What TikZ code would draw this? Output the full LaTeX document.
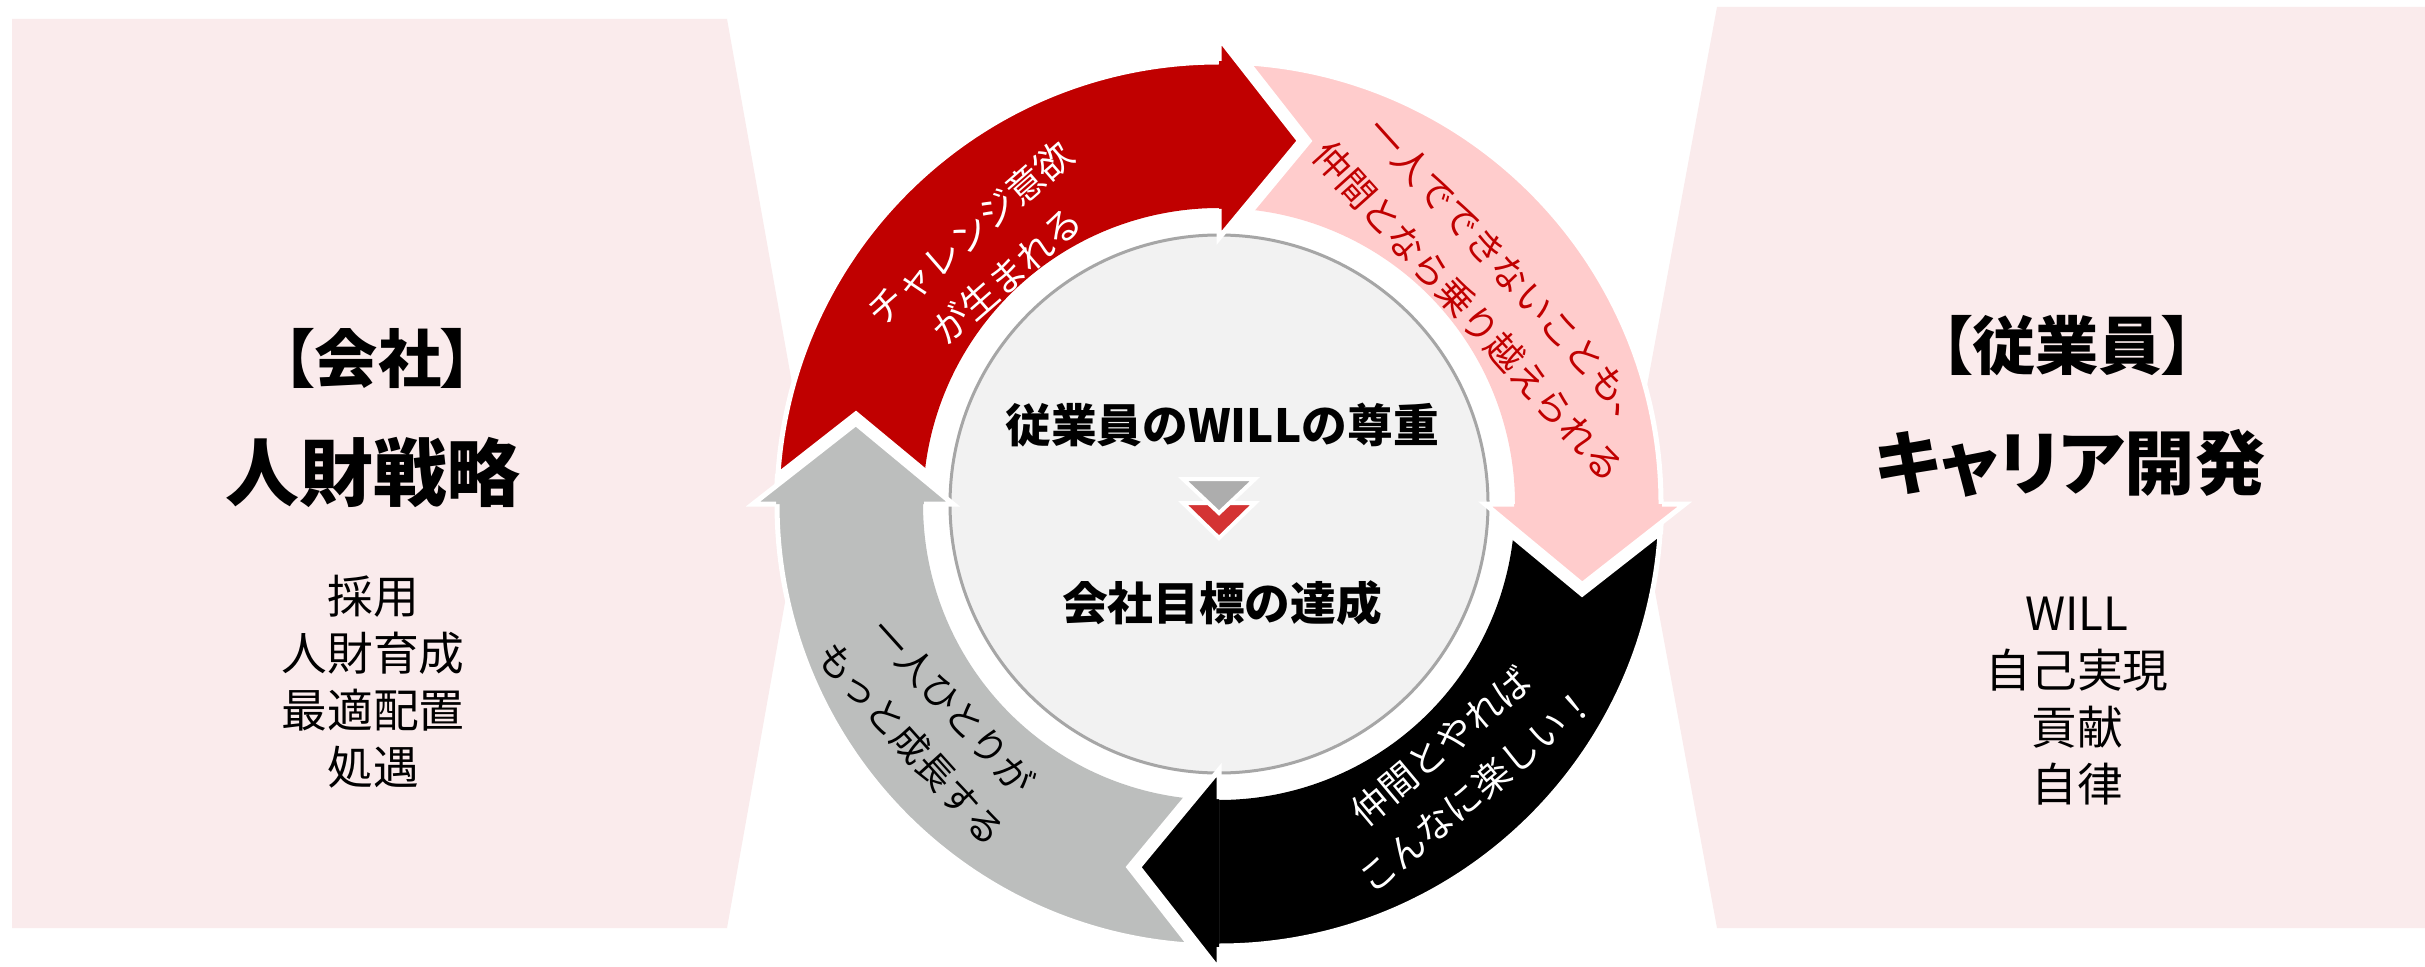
\documentclass[tikz,border=0pt]{standalone}
\usepackage{fontspec}
\setmainfont{Noto Sans CJK JP}
\newfontfamily\jpp[RawFeature=+palt]{Noto Sans CJK JP}
\definecolor{panelpink}{HTML}{FAEBEC}
\definecolor{arrred}{HTML}{C00000}
\definecolor{arrpink}{HTML}{FFCCCC}
\definecolor{arrblack}{HTML}{000000}
\definecolor{arrgray}{HTML}{BCBEBD}
\definecolor{circfill}{HTML}{F2F2F2}
\definecolor{circline}{HTML}{A6A6A6}
\definecolor{trigray}{HTML}{ADADAD}
\definecolor{trired}{HTML}{D43333}
\newcommand{\ringband}[3]{%
  \fill[#1] (#2:442) arc[start angle=#2, end angle=#3-1.5, radius=442]
    -- (#3-1.5:296) arc[start angle=#3-1.5, end angle=#2, radius=296] -- cycle;}
\newcommand{\ringhead}[2]{%
  \begin{scope}
    \clip (#2:293) -- (#2:445) arc[start angle=#2, end angle=#2-25, radius=445]
      -- (#2-25:293) arc[start angle=#2-25, end angle=#2, radius=293] -- cycle;
    \draw[gapline] (#2:466) -- (#2-12.5:372) -- (#2:266);
  \end{scope}
  \fill[#1] (#2:466) -- (#2-12.5:372) -- (#2:266) -- cycle;
  \draw[edgeline] (#2:443) -- (#2:466) -- (#2-12.5:372) -- (#2:266) -- (#2:295);}
\tikzset{
  panelbox/.style={fill=panelpink},
  gapline/.style={white, line width=0.2cm, line join=miter},
  edgeline/.style={white, line width=0.05cm, line join=miter},
  arctext/.style={align=center, font=\fontsize{10.5}{16}\selectfont, inner sep=0pt},
  centertext/.style={font=\fontsize{13}{16}\selectfont\bfseries, inner sep=0pt},
  headtext/.style={font=\jpp\fontsize{18}{20}\selectfont\bfseries, inner sep=0pt},
  titletext/.style={font=\jpp\fontsize{21}{24}\selectfont\bfseries, inner sep=0pt},
  listtext/.style={align=center, font=\fontsize{13}{16.2}\selectfont, inner sep=0pt},
  tri/.style={draw=white, line width=0.04cm, line join=miter}
}
\begin{document}
\begin{tikzpicture}[x=0.01cm,y=0.01cm]
\useasboundingbox (0,0) rectangle (2425,-967);
\fill[white] (0,0) rectangle (2425,-967);
% side panels
\fill[panelbox] (12,-19) -- (727,-19) -- (808,-473) -- (727,-928) -- (12,-928) -- cycle;
\fill[panelbox] (1717,-7) -- (2425,-7) -- (2425,-928) -- (1717,-928) -- (1632,-467) -- cycle;
% centre circle
\fill[circfill, draw=circline, line width=0.03cm] (1219,-504) circle (269);
% ring
\begin{scope}[shift={(1219,-504)}]
  \ringband{arrred}{180}{90}
  \ringband{arrpink}{90}{0}
  \ringband{arrblack}{0}{-90}
  \ringband{arrgray}{-90}{-180}
  \draw[white, line width=0.05cm] (0,0) circle (442);
  \ringhead{arrred}{90}
  \ringhead{arrpink}{0}
  \ringhead{arrblack}{-90}
  \ringhead{arrgray}{180}
\end{scope}
% centre marks
\fill[trired, tri] (1183,-503) -- (1255,-503) -- (1219,-538) -- cycle;
\fill[trigray, tri] (1183,-479) -- (1255,-479) -- (1219,-513) -- cycle;
% centre texts
\node[centertext] (will) at (1222,-425) {従業員のWILLの尊重};
\node[centertext] (goal) at (1222,-603) {会社目標の達成};
% arc texts
\node[arctext, text=white, rotate=41] (tred) at (988,-254) {チャレンジ意欲\\が生まれる};
\node[arctext, text=arrred, rotate=-48] (tpink) at (1489,-293) {一人でできないことも、\\仲間となら乗り越えられる};
\node[arctext, text=white, rotate=40] (tblack) at (1459,-768) {仲間とやれば\\こんなに楽しい！};
\node[arctext, text=black, rotate=-48] (tgray) at (932,-725) {一人ひとりが\\もっと成長する};
% left panel
\node[headtext] (lhead) at (378,-358) {【会社】};
\node[titletext] (ltitle) at (373,-473) {人財戦略};
\node[listtext] (llist) at (373,-682) {採用\\人財育成\\最適配置\\処遇};
% right panel
\node[headtext] (rhead) at (2067,-346) {【従業員】};
\node[titletext, font=\jpp\fontsize{20}{24}\selectfont\bfseries] (rtitle) at (2070,-463) {キャリア開発};
\node[listtext] (rlist) at (2077,-701) {WILL\\自己実現\\貢献\\自律};
\end{tikzpicture}
\end{document}
